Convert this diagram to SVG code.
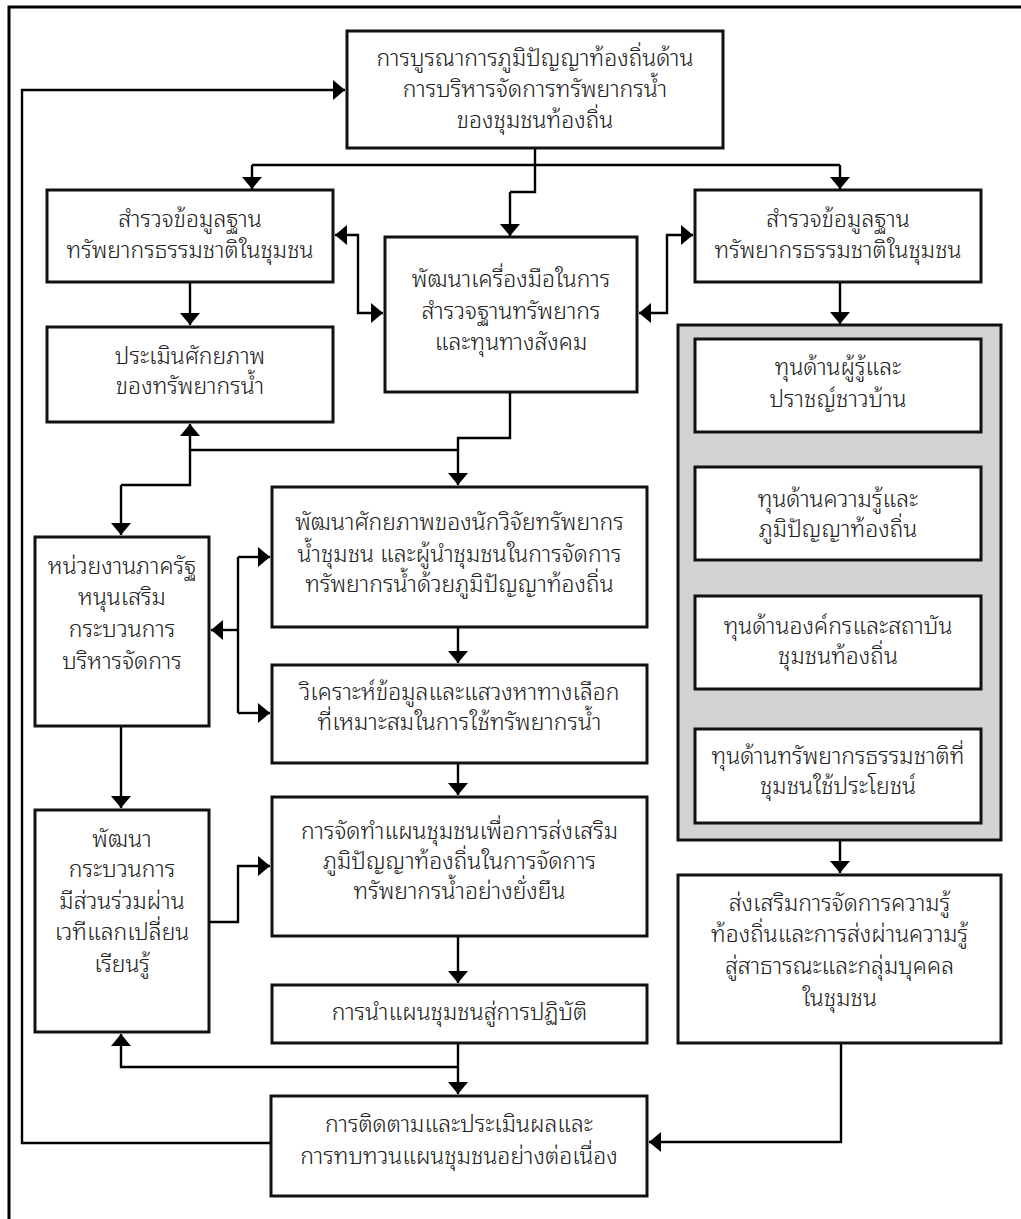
<svg xmlns="http://www.w3.org/2000/svg" width="1021" height="1219" viewBox="0 0 1021 1219">
<defs>
<marker id="ah" markerUnits="userSpaceOnUse" markerWidth="12" markerHeight="20" viewBox="0 0 12 20" refX="12" refY="10" orient="auto">
<path d="M0,0 L12,10 L0,20 z" fill="#000"/>
</marker>
<style>
.box{fill:#fff;stroke:#111;stroke-width:3}
.grp{fill:#d3d3d6;stroke:#111;stroke-width:3}
.ln{fill:none;stroke:#000;stroke-width:2.4}
.ar{fill:none;stroke:#000;stroke-width:2.4;marker-end:url(#ah)}
.frame{fill:none;stroke:#000;stroke-width:3}
text{font-family:"Noto Sans Thai Looped","Noto Serif Thai","Noto Sans Thai","Noto Sans",sans-serif;font-size:23px;font-weight:300;fill:#222;text-anchor:middle}
</style>
</defs>
<rect width="1021" height="1219" fill="#fff"/>
<path class="frame" d="M9,1219 V7 H1021"/>

<g id="connectors">
<path class="ln" d="M535,148 V192 H510"/>
<path class="ar" d="M510,192 V236"/>
<path class="ln" d="M252,165 H840"/>
<path class="ar" d="M252,165 V189"/>
<path class="ar" d="M840,165 V189"/>
<path class="ar" d="M358,274 V235 H335"/>
<path class="ar" d="M358,274 V313 H383"/>
<path class="ar" d="M667,274 V313 H639"/>
<path class="ar" d="M667,274 V235 H693"/>
<path class="ar" d="M190,282 V325"/>
<path class="ln" d="M510,392 V438 H458 V450"/>
<path class="ar" d="M458,450 V485"/>
<path class="ln" d="M190,450 H458"/>
<path class="ar" d="M190,450 V424"/>
<path class="ln" d="M190,450 V485 H121"/>
<path class="ar" d="M121,485 V535"/>
<path class="ar" d="M238,630 H211"/>
<path class="ln" d="M238,557 V713"/>
<path class="ar" d="M238,557 H270"/>
<path class="ar" d="M238,713 H270"/>
<path class="ar" d="M458,627 V663"/>
<path class="ar" d="M458,763 V795"/>
<path class="ar" d="M121,726 V808"/>
<path class="ar" d="M209,922 H238 V866 H270"/>
<path class="ar" d="M458,936 V983"/>
<path class="ln" d="M458,1043 V1067"/>
<path class="ar" d="M458,1067 H121 V1034"/>
<path class="ar" d="M458,1067 V1094"/>
<path class="ar" d="M271,1143 H22 V90 H345"/>
<path class="ar" d="M840,282 V324"/>
<path class="ar" d="M840,432 V465"/>
<path class="ar" d="M840,560 V594"/>
<path class="ar" d="M840,689 V727"/>
<path class="ar" d="M840,840 V873"/>
<path class="ar" d="M841,1043 V1142 H649"/>
</g>

<g id="n_top">
<rect class="box" x="347" y="31" width="376" height="117"/>
<text x="535" y="66">การบูรณาการภูมิปัญญาท้องถิ่นด้าน</text>
<text x="535" y="97">การบริหารจัดการทรัพยากรน้ำ</text>
<text x="535" y="128">ของชุมชนท้องถิ่น</text>
</g>
<g id="n_survey_left">
<rect class="box" x="47" y="190" width="286" height="92"/>
<text x="190" y="227">สำรวจข้อมูลฐาน</text>
<text x="190" y="258">ทรัพยากรธรรมชาติในชุมชน</text>
</g>
<g id="n_tools">
<rect class="box" x="385" y="237" width="252" height="155"/>
<text x="511" y="287">พัฒนาเครื่องมือในการ</text>
<text x="511" y="319">สำรวจฐานทรัพยากร</text>
<text x="511" y="350">และทุนทางสังคม</text>
</g>
<g id="n_survey_right">
<rect class="box" x="695" y="190" width="286" height="92"/>
<text x="838" y="227">สำรวจข้อมูลฐาน</text>
<text x="838" y="258">ทรัพยากรธรรมชาติในชุมชน</text>
</g>
<g id="n_assess">
<rect class="box" x="47" y="327" width="286" height="95"/>
<text x="190" y="364">ประเมินศักยภาพ</text>
<text x="190" y="394">ของทรัพยากรน้ำ</text>
</g>
<g id="n_capital_group">
<rect class="grp" x="678" y="325" width="323" height="515"/>
</g>
<g id="n_cap1">
<rect class="box" x="695" y="339" width="286" height="93"/>
<text x="838" y="375">ทุนด้านผู้รู้และ</text>
<text x="838" y="407">ปราชญ์ชาวบ้าน</text>
</g>
<g id="n_cap2">
<rect class="box" x="695" y="467" width="286" height="93"/>
<text x="838" y="507">ทุนด้านความรู้และ</text>
<text x="838" y="537">ภูมิปัญญาท้องถิ่น</text>
</g>
<g id="n_cap3">
<rect class="box" x="695" y="596" width="286" height="93"/>
<text x="838" y="634">ทุนด้านองค์กรและสถาบัน</text>
<text x="838" y="664">ชุมชนท้องถิ่น</text>
</g>
<g id="n_cap4">
<rect class="box" x="695" y="729" width="286" height="94"/>
<text x="838" y="764">ทุนด้านทรัพยากรธรรมชาติที่</text>
<text x="838" y="794">ชุมชนใช้ประโยชน์</text>
</g>
<g id="n_gov">
<rect class="box" x="35" y="537" width="174" height="189"/>
<text x="122" y="574">หน่วยงานภาครัฐ</text>
<text x="122" y="605">หนุนเสริม</text>
<text x="122" y="637">กระบวนการ</text>
<text x="122" y="669">บริหารจัดการ</text>
</g>
<g id="n_capacity">
<rect class="box" x="272" y="487" width="375" height="140"/>
<text x="459.5" y="530">พัฒนาศักยภาพของนักวิจัยทรัพยากร</text>
<text x="459.5" y="562">น้ำชุมชน และผู้นำชุมชนในการจัดการ</text>
<text x="459.5" y="592">ทรัพยากรน้ำด้วยภูมิปัญญาท้องถิ่น</text>
</g>
<g id="n_analyze">
<rect class="box" x="272" y="665" width="375" height="98"/>
<text x="459.5" y="700">วิเคราะห์ข้อมูลและแสวงหาทางเลือก</text>
<text x="459.5" y="730">ที่เหมาะสมในการใช้ทรัพยากรน้ำ</text>
</g>
<g id="n_plan">
<rect class="box" x="272" y="797" width="375" height="139"/>
<text x="459.5" y="839">การจัดทำแผนชุมชนเพื่อการส่งเสริม</text>
<text x="459.5" y="869">ภูมิปัญญาท้องถิ่นในการจัดการ</text>
<text x="459.5" y="899">ทรัพยากรน้ำอย่างยั่งยืน</text>
</g>
<g id="n_participate">
<rect class="box" x="35" y="810" width="174" height="222"/>
<text x="122" y="847">พัฒนา</text>
<text x="122" y="877">กระบวนการ</text>
<text x="122" y="909">มีส่วนร่วมผ่าน</text>
<text x="122" y="940">เวทีแลกเปลี่ยน</text>
<text x="122" y="972">เรียนรู้</text>
</g>
<g id="n_implement">
<rect class="box" x="272" y="985" width="375" height="58"/>
<text x="459.5" y="1020">การนำแผนชุมชนสู่การปฏิบัติ</text>
</g>
<g id="n_knowledge">
<rect class="box" x="678" y="875" width="323" height="168"/>
<text x="839.5" y="911">ส่งเสริมการจัดการความรู้</text>
<text x="839.5" y="942">ท้องถิ่นและการส่งผ่านความรู้</text>
<text x="839.5" y="974">สู่สาธารณะและกลุ่มบุคคล</text>
<text x="839.5" y="1006">ในชุมชน</text>
</g>
<g id="n_monitor">
<rect class="box" x="271" y="1096" width="376" height="100"/>
<text x="459" y="1132">การติดตามและประเมินผลและ</text>
<text x="459" y="1164">การทบทวนแผนชุมชนอย่างต่อเนื่อง</text>
</g>
</svg>
